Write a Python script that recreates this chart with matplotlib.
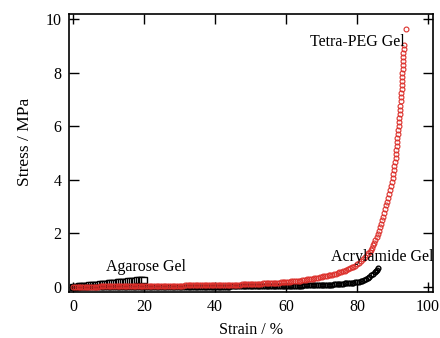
import numpy as np
import matplotlib
matplotlib.use("Agg")
import matplotlib.pyplot as plt

plt.rcParams['font.family'] = ['Liberation Serif', 'DejaVu Serif']

# Tetra-PEG gel (red open circles)
peg_strain = [i * 0.5 for i in range(160)] + [
    80.0, 80.6, 81.2, 81.8, 82.3, 82.8, 83.2, 83.6, 84.0, 84.3, 84.6, 84.9,
    85.2, 85.5, 85.8, 86.1, 86.4, 86.7, 87.0, 87.3, 87.6, 87.9, 88.2, 88.5,
    88.8, 89.1, 89.4, 89.6, 89.8, 90.0, 90.2, 90.4, 90.55, 90.7, 90.85, 91.0,
    91.1, 91.2, 91.3, 91.4, 91.5, 91.6, 91.7, 91.8, 91.9, 92.0, 92.1, 92.2,
    92.3, 92.4, 92.5, 92.55, 92.6, 92.7, 92.75, 92.8, 92.85, 92.9, 92.95,
    93.0, 93.05, 93.1, 93.15, 93.8]
peg_stress = [
    0.00, 0.00, 0.01, 0.01, 0.01, 0.01, 0.01, 0.01, 0.01, 0.01,
    0.01, 0.01, 0.01, 0.01, 0.01, 0.02, 0.02, 0.02, 0.02, 0.02,
    0.02, 0.02, 0.02, 0.02, 0.02, 0.02, 0.02, 0.02, 0.03, 0.03,
    0.03, 0.03, 0.03, 0.03, 0.03, 0.03, 0.03, 0.03, 0.03, 0.04,
    0.04, 0.04, 0.04, 0.04, 0.04, 0.04, 0.04, 0.04, 0.04, 0.04,
    0.04, 0.05, 0.05, 0.05, 0.05, 0.05, 0.05, 0.05, 0.05, 0.05,
    0.05, 0.05, 0.05, 0.06, 0.06, 0.06, 0.06, 0.06, 0.06, 0.06,
    0.06, 0.06, 0.06, 0.06, 0.06, 0.07, 0.07, 0.07, 0.07, 0.07,
    0.07, 0.07, 0.07, 0.08, 0.08, 0.08, 0.08, 0.08, 0.08, 0.09,
    0.09, 0.09, 0.09, 0.09, 0.09, 0.10, 0.10, 0.10, 0.10, 0.11,
    0.11, 0.11, 0.11, 0.12, 0.12, 0.12, 0.12, 0.13, 0.13, 0.14,
    0.14, 0.14, 0.14, 0.15, 0.15, 0.16, 0.16, 0.17, 0.17, 0.18,
    0.19, 0.19, 0.20, 0.21, 0.21, 0.22, 0.22, 0.23, 0.24, 0.25,
    0.26, 0.27, 0.28, 0.29, 0.30, 0.31, 0.32, 0.33, 0.35, 0.36,
    0.37, 0.39, 0.40, 0.42, 0.43, 0.45, 0.46, 0.48, 0.50, 0.52,
    0.55, 0.57, 0.59, 0.61, 0.64, 0.67, 0.70, 0.73, 0.76, 0.80,
    0.84, 0.90, 0.97, 1.04, 1.11, 1.18, 1.25, 1.32, 1.38, 1.46, 1.55, 1.64,
    1.74, 1.86, 1.98, 2.10, 2.22, 2.35, 2.48, 2.62, 2.76, 2.90, 3.04, 3.18,
    3.32, 3.47, 3.62, 3.77, 3.92, 4.07, 4.22, 4.37, 4.52, 4.67, 4.82, 4.97,
    5.12, 5.27, 5.42, 5.57, 5.72, 5.87, 6.02, 6.17, 6.32, 6.47, 6.62, 6.77,
    6.92, 7.07, 7.22, 7.37, 7.52, 7.67, 7.82, 7.97, 8.12, 8.27, 8.42,
    8.57, 8.72, 8.87, 9.02, 9.63]

# Acrylamide gel (black)
acr_strain = [i * 0.5 for i in range(160)] + [80, 80.5, 81, 81.5, 82, 82.5,
                                              83, 83.5, 84, 84.5, 85, 85.3,
                                              85.6, 86]
acr_stress = [
    0.00, 0.00, 0.00, 0.00, 0.00, 0.00, 0.00, 0.00, 0.00, 0.00,
    0.00, 0.00, 0.00, 0.00, 0.00, 0.00, 0.00, 0.00, 0.00, 0.00,
    0.00, 0.00, 0.00, 0.00, 0.00, 0.00, 0.00, 0.00, 0.00, 0.00,
    0.00, 0.00, 0.00, 0.00, 0.00, 0.00, 0.00, 0.00, 0.00, 0.00,
    0.00, 0.00, 0.00, 0.00, 0.00, 0.00, 0.00, 0.00, 0.00, 0.00,
    0.01, 0.01, 0.01, 0.01, 0.01, 0.01, 0.01, 0.01, 0.01, 0.01,
    0.01, 0.01, 0.01, 0.01, 0.01, 0.01, 0.01, 0.01, 0.01, 0.01,
    0.01, 0.01, 0.01, 0.01, 0.01, 0.01, 0.01, 0.01, 0.01, 0.01,
    0.01, 0.01, 0.01, 0.01, 0.01, 0.01, 0.01, 0.01, 0.01, 0.02,
    0.02, 0.02, 0.02, 0.02, 0.02, 0.02, 0.02, 0.02, 0.02, 0.02,
    0.02, 0.02, 0.02, 0.02, 0.02, 0.03, 0.03, 0.03, 0.03, 0.03,
    0.03, 0.03, 0.03, 0.03, 0.03, 0.03, 0.04, 0.04, 0.04, 0.04,
    0.04, 0.04, 0.04, 0.04, 0.05, 0.05, 0.05, 0.05, 0.05, 0.05,
    0.06, 0.06, 0.06, 0.06, 0.06, 0.07, 0.07, 0.07, 0.07, 0.08,
    0.08, 0.08, 0.08, 0.09, 0.09, 0.09, 0.09, 0.10, 0.10, 0.11,
    0.11, 0.12, 0.12, 0.13, 0.13, 0.14, 0.14, 0.15, 0.16, 0.17,
    0.18, 0.20, 0.22, 0.24, 0.27, 0.30, 0.34, 0.38, 0.43, 0.48,
    0.54, 0.59, 0.64, 0.70]

# Agarose gel (black open squares)
aga_strain = [i * 0.5 for i in range(41)]
aga_stress = [
    0.000, 0.006, 0.012, 0.018, 0.025, 0.031, 0.038, 0.044, 0.051, 0.057,
    0.064, 0.070, 0.077, 0.083, 0.090, 0.097, 0.104, 0.110, 0.117, 0.124,
    0.131, 0.138, 0.145, 0.152, 0.159, 0.166, 0.173, 0.180, 0.187, 0.194,
    0.201, 0.208, 0.215, 0.222, 0.229, 0.236, 0.243, 0.250, 0.257, 0.264,
    0.271]

fig = plt.figure(figsize=(4.4, 3.38), dpi=100)
ax = fig.add_axes([0.156, 0.136, 0.828, 0.823])

ax.plot(aga_strain, aga_stress, 's', ms=3.8, mfc='white', mec='black', mew=1.0)
ax.plot(acr_strain, acr_stress, 'o', ms=3.4, mfc='none', mec='black', mew=1.0)
ax.plot(peg_strain, peg_stress, 'o', ms=3.5, mfc='none', mec='#dc2f2a', mew=0.8)

ax.text(93.5, 9.14, 'Tetra-PEG Gel', fontsize=11.5, ha='right', va='center')
ax.text(72.7, 1.12, 'Acrylamide Gel', fontsize=11.5, ha='left', va='center')
ax.text(9.3, 0.75, 'Agarose Gel', fontsize=11.5, ha='left', va='center')

ax.set_xlim(-1.3, 101.4)
ax.set_ylim(-0.19, 10.19)
ax.set_xticks([0, 20, 40, 60, 80, 100])
ax.set_yticks([0, 2, 4, 6, 8, 10])
ax.tick_params(direction='in', top=True, right=True, length=7, width=1,
               labelsize=11.5, pad=5)
for s in ax.spines.values():
    s.set_linewidth(1.2)

ax.set_xlabel('Strain / %', fontsize=11.5, labelpad=5)
ax.set_ylabel('Stress / MPa', fontsize=12.5)
ax.yaxis.set_label_coords(-0.097, 0.54)

plt.savefig('out.png', dpi=100)
